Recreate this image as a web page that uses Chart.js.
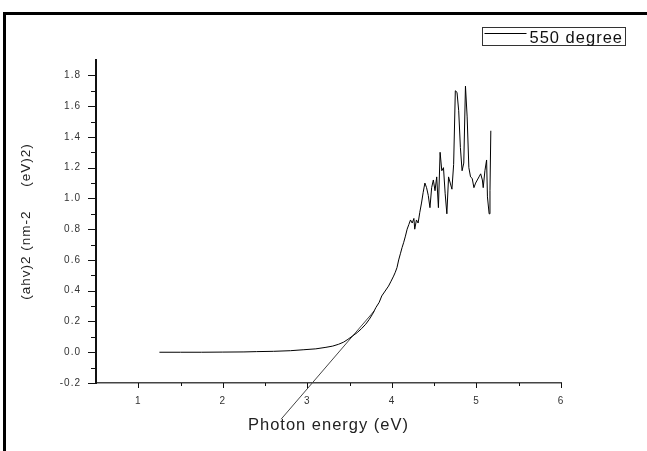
<!DOCTYPE html>
<html>
<head>
<meta charset="utf-8">
<script src="https://cdn.jsdelivr.net/npm/chart.js@4.4.1/dist/chart.umd.min.js"></script>
<style>
  html, body { margin: 0; padding: 0; background: #fff; }
  #wrap { position: relative; width: 647px; height: 451px; overflow: hidden; }
  #frame { position: absolute; left: 3px; top: 12px; width: 700px; height: 500px;
           border-left: 3px solid #000; border-top: 3px solid #000; }
  #c { position: absolute; left: 0; top: 0; }
</style>
</head>
<body>
<div id="wrap">
  <div id="frame"></div>
  <canvas id="c" width="647" height="451"></canvas>
</div>
<script>
//データ
const seriesName = '550 degree';
const energy = [
  1.25, 1.50, 1.75, 2.00, 2.25, 2.40, 2.60, 2.80, 2.95, 3.10,
  3.22, 3.30, 3.37, 3.43, 3.48, 3.53, 3.59, 3.64, 3.69, 3.73,
  3.77, 3.81, 3.85, 3.88, 3.92, 3.96, 3.99, 4.02, 4.04, 4.06,
  4.08, 4.10, 4.12, 4.14, 4.16, 4.18, 4.20, 4.22, 4.24, 4.26,
  4.27, 4.29, 4.31, 4.33, 4.35, 4.37, 4.39, 4.41, 4.43, 4.45,
  4.47, 4.49, 4.51, 4.53, 4.55, 4.57, 4.59, 4.61, 4.63, 4.65,
  4.67, 4.69, 4.71, 4.73, 4.75, 4.77, 4.79, 4.81, 4.83, 4.85,
  4.87, 4.89, 4.91, 4.93, 4.95, 4.97, 4.99, 5.01, 5.03, 5.05,
  5.07, 5.08, 5.10, 5.12, 5.13, 5.15, 5.16, 5.17
];
const absorb = [
  0.000, 0.000, 0.000, 0.001, 0.002, 0.004, 0.006, 0.010, 0.016, 0.022,
  0.032, 0.040, 0.052, 0.066, 0.084, 0.104, 0.128, 0.153, 0.182, 0.212,
  0.247, 0.290, 0.325, 0.366, 0.398, 0.430, 0.462, 0.495, 0.520, 0.550,
  0.600, 0.640, 0.680, 0.715, 0.755, 0.800, 0.830, 0.860, 0.840, 0.870,
  0.800, 0.860, 0.840, 0.910, 0.970, 1.040, 1.100, 1.070, 1.020, 0.940,
  1.070, 1.120, 1.050, 1.140, 0.940, 1.300, 1.180, 1.200, 1.030, 0.900,
  1.140, 1.100, 1.060, 1.220, 1.700, 1.690, 1.570, 1.330, 1.180, 1.230,
  1.730, 1.530, 1.200, 1.140, 1.130, 1.070, 1.100, 1.120, 1.140, 1.160,
  1.120, 1.070, 1.180, 1.250, 1.010, 0.900, 1.050, 1.440
];
//接線（バンドギャップ外挿）
const fitX = [2.69, 3.79];
const fitY = [-0.435, 0.268];
//目盛り
const xTicks = [1, 2, 3, 4, 5, 6];
const xMinor = [1.5, 2.5, 3.5, 4.5, 5.5];
const yTicks = [-0.2, 0.0, 0.2, 0.4, 0.6, 0.8, 1.0, 1.2, 1.4, 1.6, 1.8];
const yMinor = [-0.1, 0.1, 0.3, 0.5, 0.7, 0.9, 1.1, 1.3, 1.5, 1.7];

const font = 'Arial, "Liberation Sans", sans-serif';

//文字間隔
const spacing = {
  id: 'spacing',
  beforeUpdate(chart) { chart.ctx.letterSpacing = '1px'; },
  beforeDraw(chart) { chart.ctx.letterSpacing = '1px'; },
};

//目盛り線と凡例
const marks = {
  id: 'marks',
  afterDraw(chart) {
    const ctx = chart.ctx;
    const x = chart.scales.x;
    const y = chart.scales.y;
    ctx.save();
    ctx.strokeStyle = '#111';
    ctx.lineWidth = 1;
    ctx.beginPath();
    const yb = y.bottom;
    xTicks.concat(xMinor).forEach(function (v) {
      const px = Math.round(x.getPixelForValue(v)) + 0.5;
      const len = xTicks.includes(v) ? 5 : 3;
      ctx.moveTo(px, yb);
      ctx.lineTo(px, yb + len);
    });
    const xl = x.left;
    yTicks.concat(yMinor).forEach(function (v) {
      const py = Math.round(y.getPixelForValue(v)) + 0.5;
      const len = yTicks.includes(v) ? 8 : 5;
      ctx.moveTo(xl - len, py);
      ctx.lineTo(xl, py);
    });
    ctx.stroke();

    //凡例
    const lg = { left: 482.5, top: 27.5, width: 143, height: 18 };
    ctx.strokeStyle = '#333';
    ctx.strokeRect(lg.left, lg.top, lg.width, lg.height);
    ctx.strokeStyle = '#000';
    ctx.beginPath();
    ctx.moveTo(lg.left + 2, lg.top + 6);
    ctx.lineTo(lg.left + 44, lg.top + 6);
    ctx.stroke();
    ctx.letterSpacing = '1px';
    ctx.font = '16.5px ' + font;
    ctx.fillStyle = '#111';
    ctx.textBaseline = 'alphabetic';
    ctx.textAlign = 'left';
    ctx.fillText(chart.data.datasets[0].label, lg.left + 47, lg.top + 15);
    ctx.restore();
  },
};

const ctx = document.getElementById('c');
const myChart = new Chart(ctx, {
  type: 'scatter',
  data: {
    datasets: [
      {
        label: seriesName,
        data: energy.map(function (e, i) { return { x: e, y: absorb[i] }; }),
        showLine: true,
        borderColor: '#000',
        borderWidth: 1,
        pointRadius: 0,
        tension: 0,
      },
      {
        label: 'fit',
        data: fitX.map(function (e, i) { return { x: e, y: fitY[i] }; }),
        showLine: true,
        borderColor: '#444',
        borderWidth: 1,
        pointRadius: 0,
        clip: false,
      },
    ],
  },
  options: {
    responsive: false,
    animation: false,
    devicePixelRatio: 1,
    layout: { padding: { left: 0, top: 60, right: 86, bottom: 0 } },
    plugins: {
      legend: { display: false },
      tooltip: { enabled: false },
    },
    scales: {
      x: {
        type: 'linear',
        min: 0.5,
        max: 6,
        afterBuildTicks: function (s) { s.ticks = xTicks.map(function (v) { return { value: v }; }); },
        afterFit: function (s) { s.height = 68; },
        grid: { display: false, drawTicks: false },
        border: { display: true, color: '#444', width: 1.5 },
        ticks: {
          padding: 12,
          color: '#333',
          font: { family: font, size: 10 },
          maxRotation: 0,
          autoSkip: false,
          callback: function (v) { return String(v); },
        },
        title: {
          display: true,
          text: 'Photon energy (eV)',
          color: '#222',
          font: { family: font, size: 16.5 },
          padding: { top: 0, bottom: 16 },
        },
      },
      y: {
        type: 'linear',
        min: -0.2,
        max: 1.9,
        afterBuildTicks: function (s) { s.ticks = yTicks.map(function (v) { return { value: v }; }); },
        afterFit: function (s) { s.width = 96; },
        grid: { display: false, drawTicks: false },
        border: { display: true, color: '#111', width: 2 },
        ticks: {
          padding: 15,
          color: '#333',
          font: { family: font, size: 10 },
          autoSkip: false,
          callback: function (v) { return v.toFixed(1); },
        },
        title: {
          display: true,
          text: '(ahv)2 (nm-2     (eV)2)',
          color: '#222',
          font: { family: font, size: 13.5 },
          padding: { top: 18, bottom: 0 },
        },
      },
    },
  },
  plugins: [spacing, marks],
});
</script>
</body>
</html>
